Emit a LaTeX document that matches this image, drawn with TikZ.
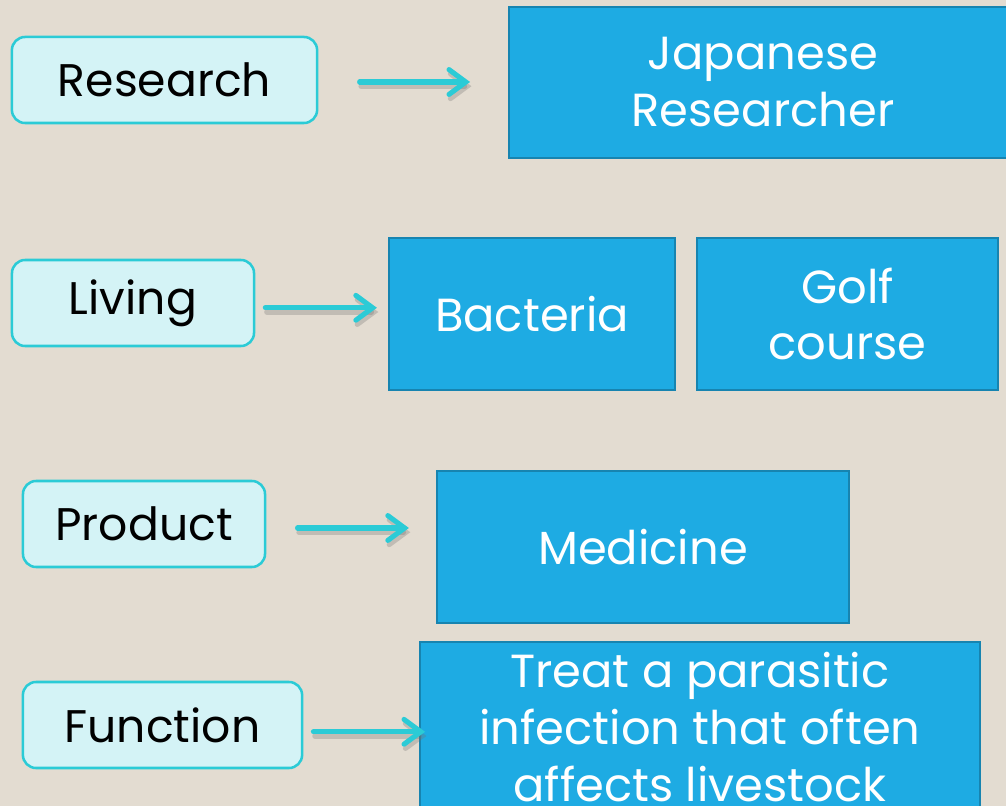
\documentclass[tikz,border=0pt]{standalone}
\usepackage{xcolor}
\usepackage{fontspec}
\setmainfont{Poppins}
\usepackage{tikz}
\usetikzlibrary{arrows.meta,positioning}

\definecolor{paper}{HTML}{E3DCD1}
\definecolor{tealline}{HTML}{2BCBD6}
\definecolor{tealfill}{HTML}{D4F3F6}
\definecolor{boxblue}{HTML}{1EABE3}
\definecolor{boxedge}{HTML}{1784B0}

\begin{document}
\begin{tikzpicture}[x=0.025cm,y=-0.025cm,
  keybox/.style={draw=tealline, line width=1.8pt, fill=tealfill, rounded corners=0.33cm,
    text=black, font=\fontsize{32.5}{38}\selectfont, inner sep=0pt},
  bluebox/.style={draw=boxedge, line width=1.2pt, fill=boxblue, text=white,
    align=center, font=\fontsize{33}{40.5}\selectfont, inner sep=0pt},
  linkarrow/.style={draw=tealline, line width=3.6pt, line cap=round,
    -{Straight Barb[length=0.42cm,width=0.62cm,line cap=round]}},
  linkshadow/.style={draw=black!55, opacity=0.3, line width=3.6pt, line cap=round,
    -{Straight Barb[length=0.42cm,width=0.62cm,line cap=round]}}]
\fill [paper] (0,0) rectangle (1006,806);
\clip (0,0) rectangle (1006,806);

% left column
\node [keybox, minimum width=7.63cm, minimum height=2.15cm] (research) at (164.5,80) {Research};
\node [keybox, minimum width=6.05cm, minimum height=2.15cm] (living) at (133,303) {Living};
\node [keybox, minimum width=6.05cm, minimum height=2.15cm] (product) at (144,524) {Product};
\node [keybox, minimum width=6.98cm, minimum height=2.15cm] (function) at (162.5,725) {Function};

% right column
\node [bluebox, minimum width=12.7cm, minimum height=3.78cm] (japanese) at (763,82.5) {Japanese\\Researcher};
\node [bluebox, minimum width=7.15cm, minimum height=3.8cm] (bacteria) at (532,314) {Bacteria};
\node [bluebox, minimum width=7.53cm, minimum height=3.8cm] (golf) at (847.5,314) {Golf\\course};
\node [bluebox, minimum width=10.3cm, minimum height=3.8cm] (medicine) at (643,547) {Medicine};
\node [bluebox, minimum width=14cm, minimum height=4.25cm] (treat) at (700,727) {Treat a parasitic\\infection that often\\affects livestock};

% links
\draw [linkshadow, shorten <=1.03cm, shorten >=0.95cm, transform canvas={xshift=1pt,yshift=-3pt}]
  ([yshift=-0.05cm]research.east) -- ([yshift=-0.05cm]research.east -| japanese.west);
\draw [linkarrow, shorten <=1.03cm, shorten >=0.95cm]
  ([yshift=-0.05cm]research.east) -- ([yshift=-0.05cm]research.east -| japanese.west);
\draw [linkshadow, shorten <=0.25cm, shorten >=0.28cm, transform canvas={xshift=1pt,yshift=-3pt}]
  ([yshift=-0.12cm]living.east) -- ([yshift=-0.12cm]living.east -| bacteria.west);
\draw [linkarrow, shorten <=0.25cm, shorten >=0.28cm]
  ([yshift=-0.12cm]living.east) -- ([yshift=-0.12cm]living.east -| bacteria.west);
\draw [linkshadow, shorten <=0.78cm, shorten >=0.68cm, transform canvas={xshift=1pt,yshift=-3pt}]
  ([yshift=-0.1cm]product.east) -- ([yshift=-0.1cm]product.east -| medicine.west);
\draw [linkarrow, shorten <=0.78cm, shorten >=0.68cm]
  ([yshift=-0.1cm]product.east) -- ([yshift=-0.1cm]product.east -| medicine.west);
\draw [linkshadow, shorten <=0.25cm, shorten >=-0.15cm, transform canvas={xshift=1pt,yshift=-3pt}]
  ([yshift=-0.17cm]function.east) -- ([yshift=-0.17cm]function.east -| treat.west);
\draw [linkarrow, shorten <=0.25cm, shorten >=-0.15cm]
  ([yshift=-0.17cm]function.east) -- ([yshift=-0.17cm]function.east -| treat.west);
\end{tikzpicture}
\end{document}
